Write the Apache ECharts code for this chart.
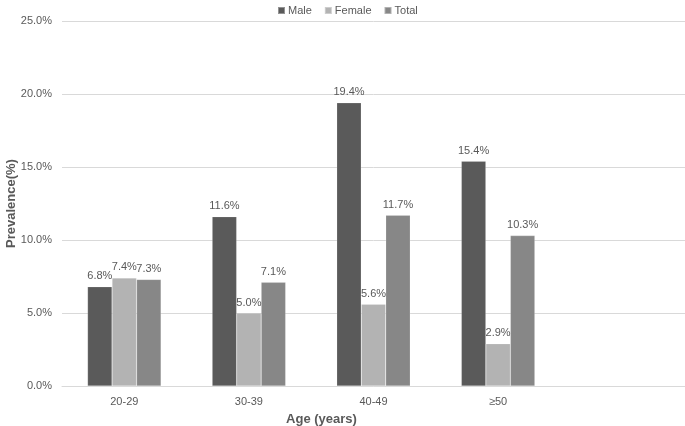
<!DOCTYPE html>
<html>
<head>
<meta charset="utf-8">
<script src="https://cdn.jsdelivr.net/npm/echarts@6/dist/echarts.min.js"></script>
<style>
html,body{margin:0;padding:0;background:#fff;}
#main{width:685px;height:426px;}
</style>
</head>
<body>
<div id="main"></div>
<script>
const categories = ['20-29', '30-39', '40-49', '≥50', ''];
const male = [6.8, 11.6, 19.4, 15.4, null];
const female = [7.4, 5.0, 5.6, 2.9, null];
const total = [7.3, 7.1, 11.7, 10.3, null];
const seriesNames = ['Male', 'Female', 'Total'];

const font = 'Liberation Sans';
const textColor = '#595959';

const chart = echarts.init(document.getElementById('main'));
function mk(name, data, color) {
  return {
    name: name,
    type: 'bar',
    data: data,
    barGap: '0%',
    barCategoryGap: '41%',
    itemStyle: { color: color, borderColor: 'rgba(255,255,255,0.35)', borderWidth: 0.5 },
    label: {
      show: true,
      position: 'top',
      distance: 5,
      color: textColor,
      fontFamily: font,
      fontSize: 11,
      formatter: p => p.value == null ? '' : p.value.toFixed(1) + '%'
    }
  };
}
chart.setOption({
  animation: false,
  textStyle: { fontFamily: font },
  legend: {
    data: seriesNames,
    top: 0,
    left: 272,
    icon: 'rect',
    itemWidth: 7,
    itemHeight: 7,
    itemGap: 12,
    textStyle: { color: textColor, fontSize: 11, fontFamily: font, padding: [0, 0, 0, -2] }
  },
  grid: { left: 62, right: 0, top: 21, bottom: 40, containLabel: false, outerBoundsMode: 'none' },
  xAxis: {
    type: 'category',
    data: categories,
    name: 'Age (years)',
    nameLocation: 'middle',
    nameGap: 27,
    nameMoveOverlap: false,
    nameTextStyle: { color: textColor, fontSize: 13, fontWeight: 'bold', fontFamily: font, padding: [0, 104, 0, 0] },
    axisLine: { lineStyle: { color: '#d9d9d9', width: 1 } },
    axisTick: { show: false },
    axisLabel: { color: textColor, fontSize: 11, fontFamily: font, margin: 10 }
  },
  yAxis: {
    type: 'value',
    min: 0,
    max: 25,
    interval: 5,
    name: 'Prevalence(%)',
    nameLocation: 'middle',
    nameGap: 44,
    nameMoveOverlap: false,
    nameTextStyle: { color: textColor, fontSize: 13, fontWeight: 'bold', fontFamily: font },
    axisLine: { show: false },
    axisTick: { show: false },
    splitLine: { lineStyle: { color: '#d9d9d9', width: 1 } },
    axisLabel: { color: textColor, fontSize: 11, fontFamily: font, margin: 10, formatter: v => v.toFixed(1) + '%' }
  },
  series: [
    mk('Male', male, '#5a5a5a'),
    mk('Female', female, '#b3b3b3'),
    mk('Total', total, '#878787')
  ]
});
</script>
</body>
</html>
